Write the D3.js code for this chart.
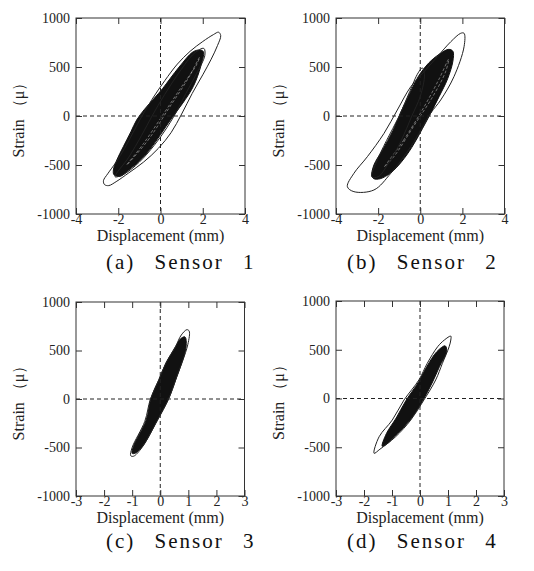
<!DOCTYPE html>
<html>
<head>
<meta charset="utf-8">
<script src="https://cdn.jsdelivr.net/npm/d3@7"></script>
<style>
  body { margin: 0; background: #fff; }
  text { font-family: "Liberation Serif", "Times New Roman", serif; }
</style>
</head>
<body>
<script>
// hysteresis plots: strain vs displacement for four sensors

// tick values
var xTicksWide = [-4, -2, 0, 2, 4];
var xTicksNarrow = [-3, -2, -1, 0, 1, 2, 3];
var yTicks = [-1000, -500, 0, 500, 1000];
var captions = ["(a) Sensor 1", "(b) Sensor 2", "(c) Sensor 3", "(d) Sensor 4"];

// loops, [displacement mm, strain]
var s1Outer = [[-2.65,-700],[-2.7,-660],[-2.5,-590],[-2.1,-470],[-1.7,-330],[-1.3,-170],[-0.9,-10],[-0.4,170],[0.2,360],[0.8,530],[1.4,660],[2.0,760],[2.5,830],[2.75,855],[2.85,820],[2.7,720],[2.4,580],[2.0,420],[1.5,230],[1.0,20],[0.5,-170],[-0.1,-330],[-0.8,-470],[-1.5,-580],[-2.1,-670],[-2.45,-710]];
var s1Mid = [[-2.15,-620],[-1.5,-420],[-0.9,-200],[-0.4,0],[0.2,220],[0.9,450],[1.6,640],[2.05,690],[2.1,620],[1.7,430],[1.2,230],[0.8,60],[0.3,-120],[-0.3,-300],[-1.0,-470],[-1.7,-590]];
var s1Core = [[-2.2,-600],[-2.23,-550],[-2.07,-450],[-1.76,-313],[-1.4,-160],[-1.13,-41],[-0.75,70],[-0.3,180],[0.1,280],[0.45,380],[0.92,510],[1.55,656],[1.87,673],[2.03,656],[1.9,503],[1.55,300],[1.05,130],[0.5,-30],[0.0,-190],[-0.5,-340],[-1.0,-460],[-1.5,-550],[-1.9,-615]];
var s1Gaps = [[-1.6,-500],[-0.6,-250],[0.4,80],[1.3,380],[1.85,600],[1.7,520],[1.0,300],[0.2,40],[-0.8,-280]];

var s2Outer = [[-3.46,-721],[-3.15,-585],[-2.51,-415],[-1.72,-177],[-1.09,61],[-0.45,299],[0.18,452],[0.81,605],[1.45,758],[1.92,844],[2.08,844],[2.08,707],[1.6,401],[0.97,163],[0.5,30],[-0.45,-313],[-1.4,-585],[-2.2,-755],[-3.15,-772]];
var s2Mid = [[-2.3,-620],[-2.1,-480],[-1.6,-250],[-1.0,0],[-0.5,250],[-0.1,440],[0.1,490],[0.2,420],[0.0,200],[-0.4,0],[-0.9,-250],[-1.5,-480],[-2.0,-620]];
var s2Core = [[-2.3,-610],[-2.2,-500],[-1.8,-350],[-1.3,-150],[-0.9,50],[-0.5,230],[-0.1,400],[0.4,540],[0.9,630],[1.35,680],[1.55,660],[1.55,560],[1.3,380],[0.9,200],[0.5,30],[0.1,-130],[-0.4,-320],[-0.9,-470],[-1.4,-580],[-1.9,-640],[-2.2,-640]];
var s2Gaps = [[-1.7,-520],[-0.8,-250],[0.2,100],[0.9,380],[1.35,580],[1.2,450],[0.6,200],[-0.3,-100],[-1.2,-400]];

var s3Outer = [[-1.05,-585],[-1.0,-500],[-0.55,-230],[-0.35,0],[-0.05,200],[0.2,370],[0.55,545],[0.75,660],[0.95,715],[1.03,700],[0.98,560],[0.55,200],[0.3,0],[-0.1,-220],[-0.65,-500],[-0.95,-590]];
var s3Core = [[-1.0,-560],[-0.96,-492],[-0.5,-216],[-0.33,7],[-0.05,196],[0.2,368],[0.55,539],[0.72,620],[0.88,640],[0.92,539],[0.55,196],[0.3,7],[-0.1,-216],[-0.64,-492],[-0.9,-560]];

var s4Outer = [[-1.64,-562],[-1.46,-392],[-0.99,-221],[-0.57,-15],[-0.04,190],[0.26,361],[0.63,531],[0.87,600],[1.1,640],[1.1,600],[1.04,531],[0.8,361],[0.56,190],[0.14,-15],[-0.33,-221],[-0.87,-392],[-1.43,-520]];
var s4Core = [[-1.35,-490],[-1.2,-360],[-0.85,-200],[-0.5,-20],[-0.05,170],[0.25,330],[0.6,480],[0.9,540],[0.95,480],[0.7,330],[0.45,170],[0.1,-20],[-0.3,-200],[-0.8,-360],[-1.2,-470]];

var w = 534, h = 571;

var svg = d3.select("body").append("svg")
  .attr("width", w)
  .attr("height", h);

// frame of each plot in page pixels
var panels = [
  {left: 76, right: 245, top: 18, bottom: 214, xt: xTicksWide, loops: [s1Outer, s1Mid], core: s1Core, gaps: s1Gaps, cap: captions[0], capX: 106, capY: 269},
  {left: 336, right: 504.5, top: 18, bottom: 214, xt: xTicksWide, loops: [s2Outer, s2Mid], core: s2Core, gaps: s2Gaps, cap: captions[1], capX: 347, capY: 269},
  {left: 76, right: 244.5, top: 302, bottom: 496, xt: xTicksNarrow, loops: [s3Outer], core: s3Core, gaps: null, cap: captions[2], capX: 106, capY: 548},
  {left: 336, right: 504, top: 301, bottom: 496, xt: xTicksNarrow, loops: [s4Outer], core: s4Core, gaps: null, cap: captions[3], capX: 347, capY: 548}
];

panels.forEach(function(p) {
  var xMax = d3.max(p.xt);
  var x = d3.scaleLinear().domain([-xMax, xMax]).range([p.left, p.right]);
  var y = d3.scaleLinear().domain([-1000, 1000]).range([p.bottom, p.top]);
  var g = svg.append("g");

  var line = d3.line()
    .x(function(d) { return x(d[0]); })
    .y(function(d) { return y(d[1]); })
    .curve(d3.curveCatmullRomClosed);

  // dense core of the loops
  g.append("path")
    .attr("d", line(p.core))
    .attr("fill", "#111")
    .attr("stroke", "#111")
    .attr("stroke-width", 1);

  // light gaps between the traces inside the core
  if (p.gaps) {
    g.append("path")
      .attr("d", line(p.gaps))
      .attr("fill", "none")
      .attr("stroke", "#fff")
      .attr("stroke-opacity", 0.5)
      .attr("stroke-width", 0.8)
      .attr("stroke-dasharray", "3,2");
  }

  p.loops.forEach(function(l) {
    g.append("path")
      .attr("d", line(l))
      .attr("fill", "none")
      .attr("stroke", "#222")
      .attr("stroke-width", 1);
  });

  // dashed zero lines
  g.append("line")
    .attr("x1", x(0)).attr("x2", x(0))
    .attr("y1", p.top).attr("y2", p.bottom)
    .attr("stroke", "#222").attr("stroke-dasharray", "4,3");
  g.append("line")
    .attr("x1", p.left).attr("x2", p.right)
    .attr("y1", y(0)).attr("y2", y(0))
    .attr("stroke", "#222").attr("stroke-dasharray", "4,3");

  // axes, ticks pointing inwards
  var bottomAxis = g.append("g")
    .attr("transform", "translate(0," + p.bottom + ")")
    .call(d3.axisBottom(x).tickValues(p.xt).tickSizeInner(-6).tickSizeOuter(0).tickPadding(2).tickFormat(function(d) { return String(d); }));
  g.append("g")
    .attr("transform", "translate(0," + p.top + ")")
    .call(d3.axisTop(x).tickValues(p.xt).tickSizeInner(-6).tickSizeOuter(0).tickFormat(""));
  g.append("g")
    .attr("transform", "translate(" + p.left + ",0)")
    .call(d3.axisLeft(y).tickValues(yTicks).tickSizeInner(-6).tickSizeOuter(0).tickPadding(6).tickFormat(function(d) { return String(d); }));
  g.append("g")
    .attr("transform", "translate(" + p.right + ",0)")
    .call(d3.axisRight(y).tickValues(yTicks).tickSizeInner(-6).tickSizeOuter(0).tickFormat(""));

  g.selectAll(".domain").remove();
  g.selectAll(".tick line").attr("stroke", "#333");
  g.selectAll("g").attr("font-family", "Liberation Serif, serif").attr("font-size", 14);
  g.selectAll(".tick text").attr("fill", "#222");
  bottomAxis.selectAll(".tick text").attr("dy", "0.6em");

  // frame
  g.append("rect")
    .attr("x", p.left).attr("y", p.top)
    .attr("width", p.right - p.left).attr("height", p.bottom - p.top)
    .attr("fill", "none")
    .attr("stroke", "#333")
    .attr("stroke-width", 1);

  // axis titles
  g.append("text")
    .attr("x", (p.left + p.right) / 2)
    .attr("y", p.bottom + 27)
    .attr("text-anchor", "middle")
    .style("font-size", "16px")
    .attr("fill", "#222")
    .text("Displacement (mm)");
  g.append("text")
    .attr("transform", "translate(" + (p.left - 52) + "," + ((p.top + p.bottom) / 2) + ") rotate(-90)")
    .attr("text-anchor", "middle")
    .style("font-size", "16px")
    .attr("fill", "#222")
    .text("Strain （μ）");

  // caption under the plot
  svg.append("text")
    .attr("x", p.capX)
    .attr("y", p.capY)
    .style("font-size", "21px")
    .style("letter-spacing", "2px")
    .style("word-spacing", "12px")
    .attr("fill", "#111")
    .text(p.cap);
});
</script>
</body>
</html>
